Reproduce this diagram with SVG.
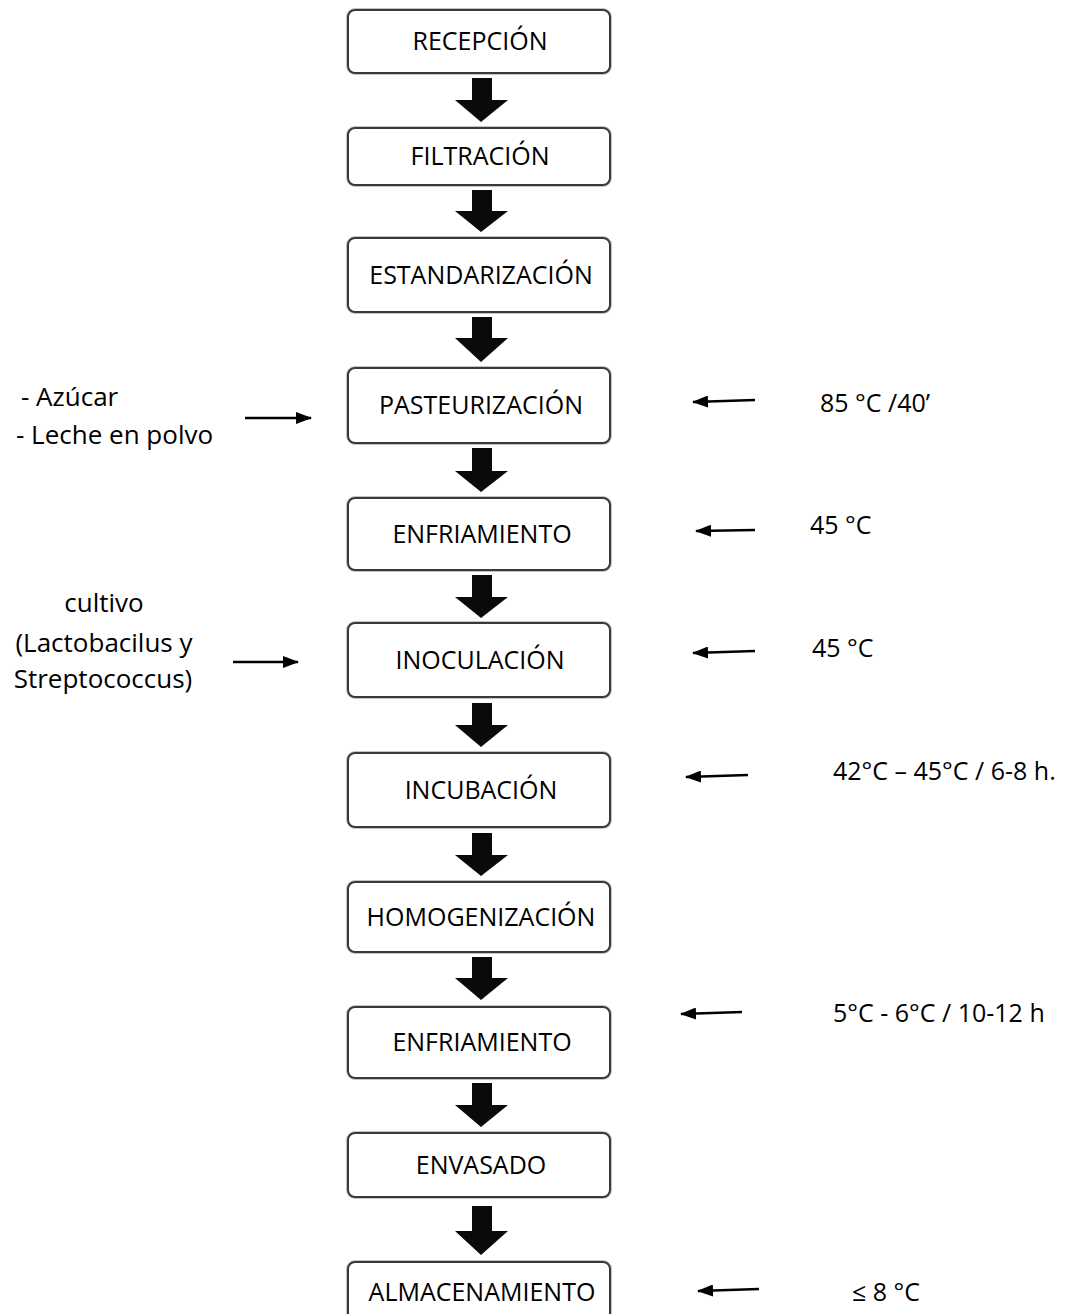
<svg xmlns="http://www.w3.org/2000/svg" width="1075" height="1314" viewBox="0 0 1075 1314">
<defs>
<style>
.box{fill:#ffffff;stroke:#3a3a3a;stroke-width:2}
.shadow{fill:none;stroke:#c4c4c4;stroke-width:4}
.t{font-family:"Open Sans","Liberation Sans",sans-serif;font-size:25px;fill:#000}
.l{font-size:26px}
.c{text-anchor:middle}
.blk{fill:#0a0a0a}
.thin{stroke:#000;stroke-width:2.5;fill:none}
</style>
<marker id="ah" viewBox="0 0 16 12" refX="15" refY="6" markerWidth="16" markerHeight="12" markerUnits="userSpaceOnUse" orient="auto">
<path d="M0,0 L16,6 L0,12 Z" fill="#000"/>
</marker>
</defs>
<rect width="1075" height="1314" fill="#ffffff"/>

<g id="n1"><rect class="shadow" x="348" y="10" width="262" height="63" rx="7"/><rect class="box" x="348" y="10" width="262" height="63" rx="7"/><text class="t c" x="480" y="50">RECEPCIÓN</text></g>
<g id="n2"><rect class="shadow" x="348" y="128" width="262" height="57" rx="7"/><rect class="box" x="348" y="128" width="262" height="57" rx="7"/><text class="t c" x="480" y="165">FILTRACIÓN</text></g>
<g id="n3"><rect class="shadow" x="348" y="238" width="262" height="74" rx="7"/><rect class="box" x="348" y="238" width="262" height="74" rx="7"/><text class="t c" x="481" y="284">ESTANDARIZACIÓN</text></g>
<g id="n4"><rect class="shadow" x="348" y="368" width="262" height="75" rx="7"/><rect class="box" x="348" y="368" width="262" height="75" rx="7"/><text class="t c" x="481" y="414">PASTEURIZACIÓN</text></g>
<g id="n5"><rect class="shadow" x="348" y="498" width="262" height="72" rx="7"/><rect class="box" x="348" y="498" width="262" height="72" rx="7"/><text class="t c" x="482" y="543">ENFRIAMIENTO</text></g>
<g id="n6"><rect class="shadow" x="348" y="623" width="262" height="74" rx="7"/><rect class="box" x="348" y="623" width="262" height="74" rx="7"/><text class="t c" x="480" y="669">INOCULACIÓN</text></g>
<g id="n7"><rect class="shadow" x="348" y="753" width="262" height="74" rx="7"/><rect class="box" x="348" y="753" width="262" height="74" rx="7"/><text class="t c" x="481" y="799">INCUBACIÓN</text></g>
<g id="n8"><rect class="shadow" x="348" y="882" width="262" height="70" rx="7"/><rect class="box" x="348" y="882" width="262" height="70" rx="7"/><text class="t c" x="481" y="926">HOMOGENIZACIÓN</text></g>
<g id="n9"><rect class="shadow" x="348" y="1007" width="262" height="71" rx="7"/><rect class="box" x="348" y="1007" width="262" height="71" rx="7"/><text class="t c" x="482" y="1051">ENFRIAMIENTO</text></g>
<g id="n10"><rect class="shadow" x="348" y="1133" width="262" height="64" rx="7"/><rect class="box" x="348" y="1133" width="262" height="64" rx="7"/><text class="t c" x="481" y="1174">ENVASADO</text></g>
<g id="n11"><rect class="shadow" x="348" y="1262" width="262" height="70" rx="7"/><rect class="box" x="348" y="1262" width="262" height="70" rx="7"/><text class="t c" x="482" y="1301">ALMACENAMIENTO</text></g>

<g id="side-texts">
<text class="t l" x="21" y="406">- Azúcar</text>
<text class="t l" x="16" y="444">- Leche en polvo</text>
<text class="t l c" x="104" y="612">cultivo</text>
<text class="t l c" x="104" y="652">(Lactobacilus y</text>
<text class="t l c" x="103" y="688">Streptococcus)</text>
<text class="t" x="820" y="412">85 °C /40’</text>
<text class="t" x="810" y="534">45 °C</text>
<text class="t" x="812" y="657">45 °C</text>
<text class="t" x="833" y="780">42°C – 45°C / 6-8 h.</text>
<text class="t" x="833" y="1022">5°C - 6°C / 10-12 h</text>
<text class="t" x="852" y="1301">≤ 8 °C</text>
</g>

<g id="connectors">
<polygon class="blk" points="472,78 492,78 492,100 508,100 481,122 455,100 472,100"/>
<polygon class="blk" points="472,190 492,190 492,211 508,211 481,232 455,211 472,211"/>
<polygon class="blk" points="472,317 492,317 492,338 508,338 481,362 455,338 472,338"/>
<polygon class="blk" points="472,448 492,448 492,471 508,471 481,492 455,471 472,471"/>
<polygon class="blk" points="472,575 492,575 492,597 508,597 481,618 455,597 472,597"/>
<polygon class="blk" points="472,703 492,703 492,725 508,725 481,747 455,725 472,725"/>
<polygon class="blk" points="472,833 492,833 492,855 508,855 481,876 455,855 472,855"/>
<polygon class="blk" points="472,957 492,957 492,978 508,978 481,1000 455,978 472,978"/>
<polygon class="blk" points="472,1083 492,1083 492,1105 508,1105 481,1127 455,1105 472,1105"/>
<polygon class="blk" points="472,1206 492,1206 492,1231 508,1231 481,1255 455,1231 472,1231"/>

<line class="thin" x1="245" y1="418" x2="311" y2="418" marker-end="url(#ah)"/>
<line class="thin" x1="233" y1="662" x2="298" y2="662" marker-end="url(#ah)"/>
<line class="thin" x1="755" y1="400" x2="693" y2="402" marker-end="url(#ah)"/>
<line class="thin" x1="755" y1="530" x2="696" y2="531" marker-end="url(#ah)"/>
<line class="thin" x1="755" y1="651" x2="693" y2="653" marker-end="url(#ah)"/>
<line class="thin" x1="748" y1="775" x2="686" y2="777" marker-end="url(#ah)"/>
<line class="thin" x1="742" y1="1012" x2="681" y2="1014" marker-end="url(#ah)"/>
<line class="thin" x1="759" y1="1289" x2="698" y2="1291" marker-end="url(#ah)"/>
</g>
</svg>
